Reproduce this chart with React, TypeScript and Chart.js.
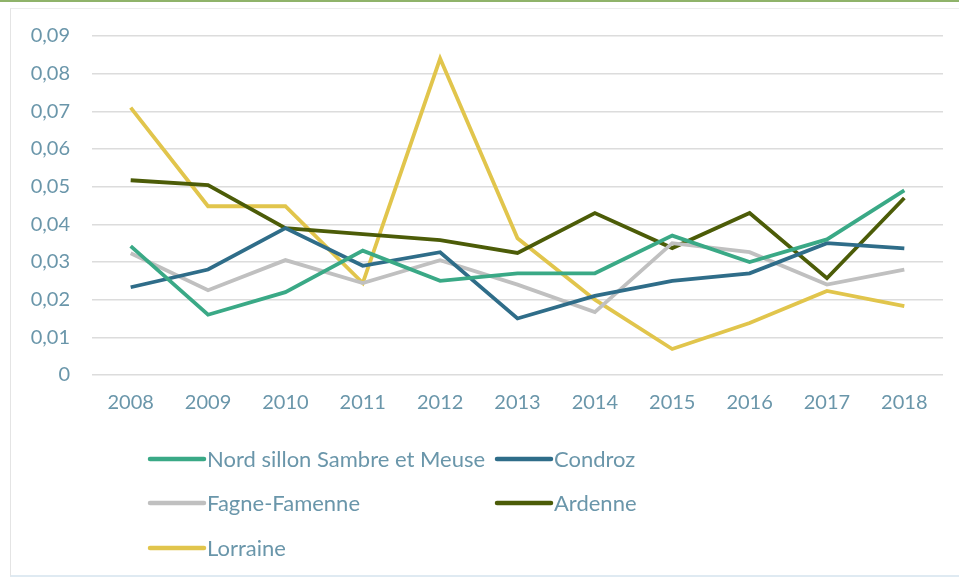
import React, { useEffect, useRef } from "react";
import { Chart, registerables } from "chart.js";

Chart.register(...registerables);

const years = ["2008", "2009", "2010", "2011", "2012", "2013", "2014", "2015", "2016", "2017", "2018"];
const yTickLabels = ["0", "0,01", "0,02", "0,03", "0,04", "0,05", "0,06", "0,07", "0,08", "0,09"];

const nordSillon = [0.0342, 0.016, 0.022, 0.033, 0.025, 0.027, 0.027, 0.037, 0.030, 0.036, 0.049];
const condroz = [0.0233, 0.028, 0.039, 0.029, 0.0326, 0.015, 0.021, 0.025, 0.027, 0.035, 0.0336];
const fagneFamenne = [0.0323, 0.0225, 0.0305, 0.0244, 0.0305, 0.024, 0.0167, 0.035, 0.0326, 0.024, 0.028];
const ardenne = [0.0517, 0.0504, 0.039, 0.0374, 0.0358, 0.0324, 0.043, 0.0337, 0.043, 0.0257, 0.047];
const lorraine = [0.071, 0.0448, 0.0448, 0.0244, 0.084, 0.0363, 0.020, 0.0069, 0.0138, 0.0223, 0.0183];

const seriesNames = ["Nord sillon Sambre et Meuse", "Condroz", "Fagne-Famenne", "Ardenne", "Lorraine"];
const seriesValues = [nordSillon, condroz, fagneFamenne, ardenne, lorraine];
const seriesColors = ["#3aa986", "#2f6d89", "#c0c0c0", "#4c5c08", "#e1c54c"];

const TEXT_COLOR = "#6a96aa";
const FONT = "Lato, 'Open Sans', sans-serif";

const gridLegend = {
  id: "gridLegend",
  afterDraw(chart: any) {
    const ctx = chart.ctx;
    const colX = [148, 495];
    const rowY = [459, 503, 548];
    ctx.save();
    ctx.font = `22px ${FONT}`;
    ctx.textBaseline = "middle";
    ctx.textAlign = "left";
    chart.data.datasets.forEach((ds: any, i: number) => {
      const x = colX[i % 2];
      const y = rowY[Math.floor(i / 2)];
      ctx.strokeStyle = ds.borderColor;
      ctx.lineWidth = 4.5;
      ctx.lineCap = "round";
      ctx.beginPath();
      ctx.moveTo(x + 2, y);
      ctx.lineTo(x + 56, y);
      ctx.stroke();
      ctx.fillStyle = TEXT_COLOR;
      ctx.fillText(ds.label, x + 59, y + 1);
    });
    ctx.restore();
  },
};

export default function App() {
  const ref = useRef<HTMLCanvasElement>(null);

  useEffect(() => {
    if (!ref.current) return;
    const chart = new Chart(ref.current, {
      type: "line",
      data: {
        labels: years,
        datasets: seriesNames.map((name, i) => ({
          label: name,
          data: seriesValues[i],
          borderColor: seriesColors[i],
          backgroundColor: seriesColors[i],
          borderWidth: 3.8,
          pointRadius: 0,
          tension: 0,
          fill: false,
        })),
      },
      options: {
        animation: false,
        responsive: false,
        maintainAspectRatio: false,
        layout: { padding: { left: 0, right: 16, top: 36, bottom: 158 } },
        plugins: {
          legend: { display: false },
          tooltip: { enabled: false },
        },
        scales: {
          x: {
            offset: true,
            grid: { display: false, drawTicks: false },
            border: { display: false },
            ticks: {
              color: TEXT_COLOR,
              font: { family: FONT, size: 20 },
              padding: 16,
              maxRotation: 0,
            },
            afterFit(scale: any) {
              scale.height = 50;
            },
          },
          y: {
            min: 0,
            max: 0.09,
            grid: { color: "#dcdcdc", lineWidth: 1.6, drawTicks: false },
            border: { display: false },
            ticks: {
              stepSize: 0.01,
              color: TEXT_COLOR,
              font: { family: FONT, size: 20 },
              padding: 22,
              callback: (_v: any, idx: number) => yTickLabels[idx],
            },
            afterFit(scale: any) {
              scale.width = 92;
            },
          },
        },
      },
      plugins: [gridLegend],
    });
    return () => chart.destroy();
  }, []);

  return (
    <div style={{ position: "fixed", left: 0, top: 0, width: 959, height: 583, background: "#ffffff" }}>
      <div style={{ position: "absolute", left: 0, top: 0, width: 959, height: 2, background: "#8fb36a" }} />
      <div
        style={{
          position: "absolute",
          left: 10,
          top: 8,
          width: 949,
          height: 569,
          borderLeft: "1px solid #e4e4e4",
          borderTop: "1px solid #ececec",
          borderBottom: "2px solid #dfeaf2",
          boxSizing: "border-box",
        }}
      />
      <canvas ref={ref} width={959} height={583} style={{ position: "absolute", left: 0, top: 0 }} />
    </div>
  );
}
